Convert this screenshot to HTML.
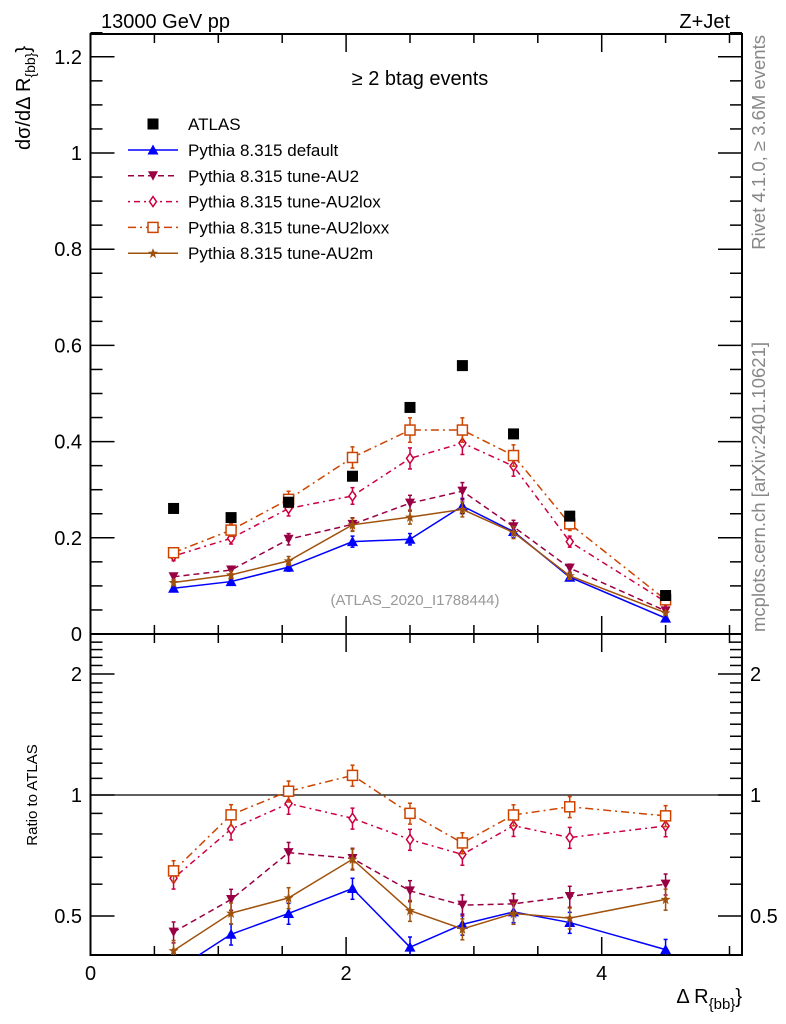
<!DOCTYPE html>
<html><head><meta charset="utf-8"><style>
body{margin:0;background:#fff;}
svg{display:block;font-family:"Liberation Sans",sans-serif;}
</style></head><body>
<svg id="c" width="786" height="1024" xmlns="http://www.w3.org/2000/svg">
<text x="101" y="28" font-size="20">13000 GeV pp</text>
<text x="730" y="28" font-size="20" text-anchor="end">Z+Jet</text>
<text x="420" y="85" font-size="20" text-anchor="middle">≥ 2 btag events</text>
<text transform="translate(765,35) rotate(-90)" font-size="18.5" fill="#888" text-anchor="end">Rivet 4.1.0, ≥ 3.6M events</text>
<text transform="translate(765,632) rotate(-90)" font-size="18.5" fill="#888">mcplots.cern.ch [arXiv:2401.10621]</text>
<text x="415" y="605" font-size="15" fill="#999" text-anchor="middle">(ATLAS_2020_I1788444)</text>
<text transform="translate(30,150) rotate(-90)" font-size="20">dσ/dΔ R<tspan font-size="14" dy="5">{bb}</tspan><tspan dy="-5">}</tspan></text>
<text transform="translate(37,795) rotate(-90)" font-size="15" text-anchor="middle">Ratio to ATLAS</text>
<text x="742" y="1003" font-size="20" text-anchor="end">Δ R<tspan font-size="15" dy="6">{bb}</tspan><tspan dy="-6">}</tspan></text>
<g id="g"></g>
</svg>
<script>
const categories=[0.65,1.10,1.55,2.05,2.50,2.91,3.31,3.75,4.50];
const atlas=[0.261,0.242,0.274,0.328,0.471,0.558,0.416,0.245,0.080];
const pyDefault=[0.095,0.109,0.139,0.192,0.197,0.266,0.213,0.118,0.033];
const pyAU2=[0.119,0.133,0.197,0.228,0.272,0.297,0.223,0.137,0.048];
const pyAU2lox=[0.162,0.199,0.261,0.287,0.365,0.397,0.349,0.192,0.067];
const pyAU2loxx=[0.169,0.216,0.280,0.367,0.424,0.424,0.371,0.229,0.071];
const pyAU2m=[0.107,0.123,0.152,0.227,0.243,0.259,0.211,0.121,0.044];
const yTicks=[0,0.2,0.4,0.6,0.8,1,1.2];
const yTickLabels=["0","0.2","0.4","0.6","0.8","1","1.2"];
const rTicks=[0.5,1,2];
const rTickLabels=["0.5","1","2"];
const xTicks=[0,2,4];
const xTickLabels=["0","2","4"];

const NS="http://www.w3.org/2000/svg";
const g=document.getElementById('g');
const L=90.5,R=742,T1=34,B1=634,T2=634,B2=955;
const X=v=>L+v*127.8;
const Y=v=>B1-v*481;
const RY=v=>795-Math.log10(v)*402;
function el(t,a,p){const e=document.createElementNS(NS,t);for(const k in a)e.setAttribute(k,a[k]);(p||g).appendChild(e);return e;}
let f=el('rect',{x:L,y:T1,width:R-L,height:B1-T1,fill:'none',stroke:'#000','stroke-width':2});


f=el('rect',{x:L,y:T2,width:R-L,height:B2-T2,fill:'none',stroke:'#000','stroke-width':2});


for(let v=0;v<=1.2501;v+=0.05){const maj=Math.abs(v/0.2-Math.round(v/0.2))<1e-6;const len=maj?24:12;const y=Y(v);
 el('line',{x1:L,x2:L+len,y1:y,y2:y,stroke:'#000','stroke-width':1.5});el('line',{x1:R,x2:R-len,y1:y,y2:y,stroke:'#000','stroke-width':1.5});}
yTicks.forEach((v,i)=>{const t=el('text',{x:82,y:Y(v)+7,'font-size':20,'text-anchor':'end'});t.textContent=yTickLabels[i];

});
for(let v=0.4;v<=2.5001;v+=0.1){const maj=[0.5,1,2].some(m=>Math.abs(m-v)<1e-6);const len=maj?24:12;const y=RY(v);if(y<T2+2||y>B2-1)continue;
 el('line',{x1:L,x2:L+len,y1:y,y2:y,stroke:'#000','stroke-width':1.5});el('line',{x1:R,x2:R-len,y1:y,y2:y,stroke:'#000','stroke-width':1.5});}
rTicks.forEach((v,i)=>{const t=el('text',{x:82,y:RY(v)+7,'font-size':20,'text-anchor':'end'});t.textContent=rTickLabels[i];


const t2=el('text',{x:750,y:RY(v)+7,'font-size':20});t2.textContent=rTickLabels[i];

});
for(let v=0;v<=5.1;v+=0.5){const maj=Math.abs(v%2)<1e-6;const len=maj?18:9;const x=X(v);
 [[B1,-1],[T2,1],[B2,-1],[T1,1]].forEach(([y0,d])=>el('line',{x1:x,x2:x,y1:y0,y2:y0+d*len,stroke:'#000','stroke-width':1.5}));}
xTicks.forEach((v,i)=>{const t=el('text',{x:X(v),y:980,'font-size':20,'text-anchor':'middle'});t.textContent=xTickLabels[i];

});
el('line',{x1:L,x2:R,y1:RY(1),y2:RY(1),stroke:'#000','stroke-width':1.2});
const clipMain=el('clipPath',{id:'cm'});el('rect',{x:L,y:T1,width:R-L,height:B1-T1},clipMain);
const clipR=el('clipPath',{id:'cr'});el('rect',{x:L,y:T2,width:R-L,height:B2-T2},clipR);
function marker(p,type,x,y,c){
 if(type==='tri')el('path',{d:`M${x-5.5},${y+4.5}L${x+5.5},${y+4.5}L${x},${y-5.5}Z`,fill:c},p);
 else if(type==='tdown')el('path',{d:`M${x-5},${y-4.5}L${x+5},${y-4.5}L${x},${y+5}Z`,fill:c},p);
 else if(type==='dia')el('path',{d:`M${x},${y-5}L${x+3.5},${y}L${x},${y+5}L${x-3.5},${y}Z`,fill:'#fff',stroke:c,'stroke-width':1.5},p);
 else if(type==='sq')el('rect',{x:x-5,y:y-5,width:10,height:10,fill:'#fff',stroke:c,'stroke-width':1.5},p);
 else if(type==='star')el('path',{d:`M${x},${y-5}L${x+1.5},${y-1.5}L${x+5},${y-1.5}L${x+2},${y+1}L${x+3},${y+5}L${x},${y+2.5}L${x-3},${y+5}L${x-2},${y+1}L${x-5},${y-1.5}L${x-1.5},${y-1.5}Z`,fill:c},p);
 else if(type==='box')el('rect',{x:x-5.5,y:y-5.5,width:11,height:11,fill:'#000'},p);
}
const series=[
 {n:'default',v:pyDefault,c:'#0000ff',d:'',m:'tri'},
 {n:'au2',v:pyAU2,c:'#990044',d:'6,4',m:'tdown'},
 {n:'au2lox',v:pyAU2lox,c:'#cc0040',d:'2,4,6,4',m:'dia'},
 {n:'au2loxx',v:pyAU2loxx,c:'#cc4400',d:'8,4,2,4',m:'sq'},
 {n:'au2m',v:pyAU2m,c:'#a0520d',d:'',m:'star'}];
const labels=['Pythia 8.315 default','Pythia 8.315 tune-AU2','Pythia 8.315 tune-AU2lox','Pythia 8.315 tune-AU2loxx','Pythia 8.315 tune-AU2m'];
series.forEach(s=>{
 ['main','ratio'].forEach(panel=>{
  const p=el('g',{'clip-path':panel==='main'?'url(#cm)':'url(#cr)'});
  
  
  const fy=panel==='main'?(v=>Y(v)):(v=>RY(v));
  const vals=panel==='main'?s.v:s.v.map((v,i)=>v/atlas[i]);
  const pts=vals.map((v,i)=>[X(categories[i]),fy(v)]);
  el('polyline',{points:pts.map(q=>q.join(',')).join(' '),fill:'none',stroke:s.c,'stroke-width':1.5,'stroke-dasharray':s.d},p);
  vals.forEach((v,i)=>{const x=pts[i][0];const e=v*0.06;
   el('line',{x1:x,x2:x,y1:fy(v-e),y2:fy(v+e),stroke:s.c,'stroke-width':1.5},p);
   el('line',{x1:x-2,x2:x+2,y1:fy(v-e),y2:fy(v-e),stroke:s.c,'stroke-width':1.5},p);
   el('line',{x1:x-2,x2:x+2,y1:fy(v+e),y2:fy(v+e),stroke:s.c,'stroke-width':1.5},p);
   marker(p,s.m,x,pts[i][1],s.c);});
 });
});
const ap=el('g',{'clip-path':'url(#cm)'});


atlas.forEach((v,i)=>marker(ap,'box',X(categories[i]),Y(v),'#000'));
const lg=el('g',{});


marker(lg,'box',153,124,'#000');
let t=el('text',{x:188,y:130,'font-size':17},lg);t.textContent='ATLAS';
series.forEach((s,i)=>{const y=150+i*25.8;
 el('line',{x1:128,x2:178,y1:y,y2:y,stroke:s.c,'stroke-width':1.5,'stroke-dasharray':s.d},lg);
 marker(lg,s.m,153,y,s.c);
 const tt=el('text',{x:188,y:y+6,'font-size':17},lg);tt.textContent=labels[i];
 
 });
</script>
</body></html>
